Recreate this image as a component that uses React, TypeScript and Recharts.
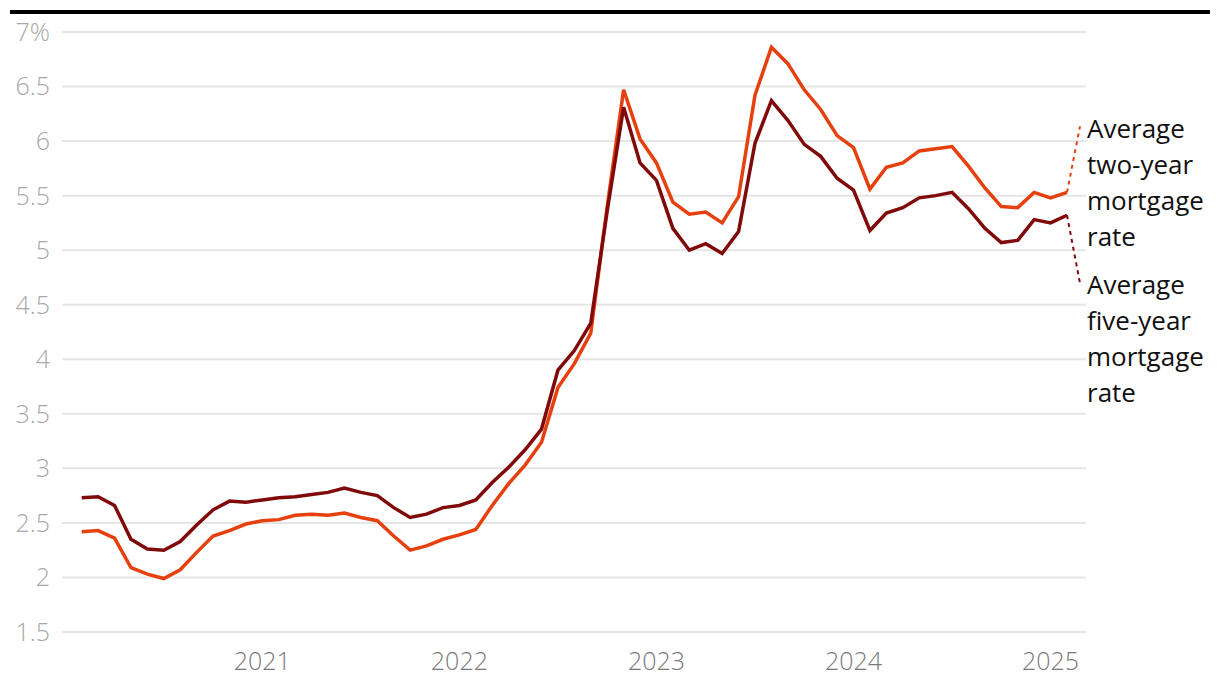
import { LineChart, Line, CartesianGrid, XAxis, YAxis } from 'recharts';

// monthly, Feb 2020 .. Feb 2025
const MONTHS = [
  '2020-02', '2020-03', '2020-04', '2020-05', '2020-06', '2020-07', '2020-08', '2020-09', '2020-10', '2020-11', '2020-12',
  '2021-01', '2021-02', '2021-03', '2021-04', '2021-05', '2021-06', '2021-07', '2021-08', '2021-09', '2021-10', '2021-11', '2021-12',
  '2022-01', '2022-02', '2022-03', '2022-04', '2022-05', '2022-06', '2022-07', '2022-08', '2022-09', '2022-10', '2022-11', '2022-12',
  '2023-01', '2023-02', '2023-03', '2023-04', '2023-05', '2023-06', '2023-07', '2023-08', '2023-09', '2023-10', '2023-11', '2023-12',
  '2024-01', '2024-02', '2024-03', '2024-04', '2024-05', '2024-06', '2024-07', '2024-08', '2024-09', '2024-10', '2024-11', '2024-12',
  '2025-01', '2025-02',
];

const TWO_YEAR = [
  2.42, 2.43, 2.36, 2.09, 2.03, 1.99, 2.07, 2.23, 2.38, 2.43, 2.49,
  2.52, 2.53, 2.57, 2.58, 2.57, 2.59, 2.55, 2.52, 2.38, 2.25, 2.29, 2.35,
  2.39, 2.44, 2.66, 2.86, 3.03, 3.24, 3.74, 3.96, 4.24, 5.4, 6.47, 6.02,
  5.8, 5.44, 5.33, 5.35, 5.25, 5.49, 6.42, 6.86, 6.71, 6.47, 6.29, 6.05,
  5.94, 5.56, 5.76, 5.8, 5.91, 5.93, 5.95, 5.77, 5.57, 5.4, 5.39, 5.53,
  5.48, 5.53,
];

const FIVE_YEAR = [
  2.73, 2.74, 2.66, 2.35, 2.26, 2.25, 2.33, 2.48, 2.62, 2.7, 2.69,
  2.71, 2.73, 2.74, 2.76, 2.78, 2.82, 2.78, 2.75, 2.64, 2.55, 2.58, 2.64,
  2.66, 2.71, 2.87, 3.01, 3.17, 3.36, 3.9, 4.08, 4.33, 5.36, 6.31, 5.8,
  5.64, 5.2, 5.0, 5.06, 4.97, 5.17, 5.98, 6.37, 6.19, 5.97, 5.86, 5.66,
  5.55, 5.18, 5.34, 5.39, 5.48, 5.5, 5.53, 5.38, 5.2, 5.07, 5.09, 5.28,
  5.25, 5.32,
];

const Y_TICKS = [1.5, 2, 2.5, 3, 3.5, 4, 4.5, 5, 5.5, 6, 6.5, 7];

const data = MONTHS.map((m, i) => ({ month: m, two: TWO_YEAR[i], five: FIVE_YEAR[i] }));

const ORANGE = '#e6400f';
const DARK = '#800a0a';
const FONT = '"Open Sans", Lato, sans-serif';

// label with a dotted leader line, drawn only at the last point
function endLabel(lines: string[], color: string, dir: 'up' | 'down') {
  return (p: any) => {
    if (p.index !== MONTHS.length - 1) return <g key={p.index} />;
    const { x, y } = p;
    const leadY = dir === 'up' ? y - 66 : y + 68;
    const firstY = dir === 'up' ? y - 64 : y + 69;
    return (
      <g key={p.index}>
        <line x1={x} y1={y} x2={x + 13} y2={leadY} stroke={color} strokeWidth={2} strokeDasharray="4 4" />
        <text x={x + 20} y={firstY} fill="#111" fontSize={26} fontFamily={FONT} dominantBaseline="central">
          {lines.map((t, k) => (
            <tspan key={k} x={x + 20} dy={k === 0 ? 0 : 36}>{t}</tspan>
          ))}
        </text>
      </g>
    );
  };
}

export default function App() {
  return (
    <div style={{ position: 'absolute', left: 0, top: 0, width: 1220, height: 690, background: '#fff' }}>
      <div style={{ position: 'absolute', left: 10, top: 10, width: 1200, height: 4, background: '#000' }} />
      <LineChart width={1220} height={690} data={data} margin={{ top: 32, right: 134, left: 0, bottom: 0 }}>
        <CartesianGrid horizontal vertical={false} stroke="#e6e6e6" strokeWidth={2} />
        <XAxis
          dataKey="month"
          height={58}
          axisLine={false}
          tickLine={false}
          interval={0}
          padding={{ left: 19.7, right: 19 }}
          tickMargin={14}
          tick={{ fill: '#7a7a7a', fontSize: 25, fontWeight: 300, fontFamily: FONT }}
          tickFormatter={(m: string) => (m.endsWith('-01') ? m.slice(0, 4) : '')}
        />
        <YAxis
          width={62}
          domain={[1.5, 7]}
          ticks={Y_TICKS}
          axisLine={false}
          tickLine={false}
          tickMargin={6}
          tick={{ fill: '#a8a8a8', fontSize: 25, fontWeight: 300, fontFamily: FONT }}
          tickFormatter={(v: number) => (v === 7 ? '7%' : String(v))}
        />
        <Line
          type="linear"
          dataKey="two"
          stroke={ORANGE}
          strokeWidth={3.5}
          dot={false}
          isAnimationActive={false}
          label={endLabel(['Average', 'two-year', 'mortgage', 'rate'], ORANGE, 'up')}
        />
        <Line
          type="linear"
          dataKey="five"
          stroke={DARK}
          strokeWidth={3.5}
          dot={false}
          isAnimationActive={false}
          label={endLabel(['Average', 'five-year', 'mortgage', 'rate'], DARK, 'down')}
        />
      </LineChart>
    </div>
  );
}
